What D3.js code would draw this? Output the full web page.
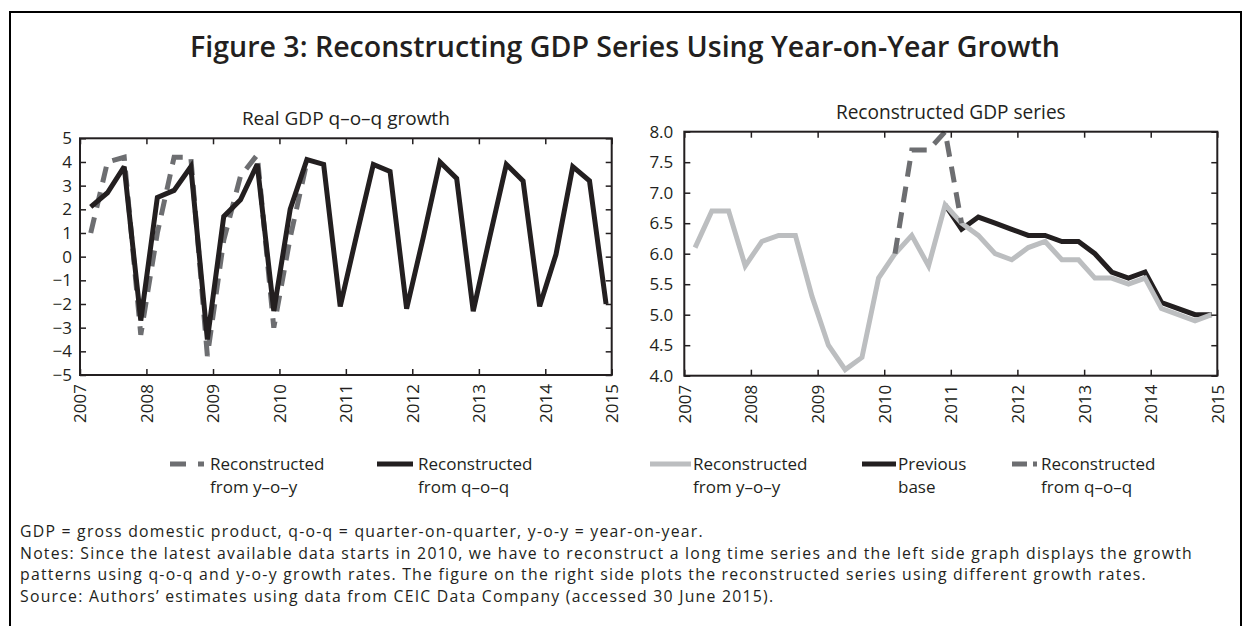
<!DOCTYPE html>
<html><head><meta charset="utf-8">
<script src="https://cdn.jsdelivr.net/npm/d3@7"></script>
<style>
body{margin:0;background:#fff}
svg{display:block}
text{font-family:"Open Sans",sans-serif;fill:#231f20}
</style>
</head><body>
<svg id="chart" width="1249" height="626"></svg>
<script>
// ---------- data ----------
const quarters = ["2007Q1","2007Q2","2007Q3","2007Q4","2008Q1","2008Q2","2008Q3","2008Q4",
  "2009Q1","2009Q2","2009Q3","2009Q4","2010Q1","2010Q2","2010Q3","2010Q4",
  "2011Q1","2011Q2","2011Q3","2011Q4","2012Q1","2012Q2","2012Q3","2012Q4",
  "2013Q1","2013Q2","2013Q3","2013Q4","2014Q1","2014Q2","2014Q3","2014Q4"];
const yearTicks = [2007,2008,2009,2010,2011,2012,2013,2014,2015];
const leftYTicks = [5,4,3,2,1,0,-1,-2,-3,-4,-5];
const rightYTicks = [8.0,7.5,7.0,6.5,6.0,5.5,5.0,4.5,4.0];

// Left panel: Real GDP q-o-q growth (%)
const growthFromYoy = [1.0,4.0,4.2,-3.3, 1.0,4.2,4.2,-4.2, 0.7,3.4,4.3,-3.0, 0.8,4.0,null,null,
  null,null,null,null, null,null,null,null, null,null,null,null, null,null,null,null];
const growthFromQoq = [2.1,2.7,3.8,-2.7, 2.5,2.8,3.8,-3.5, 1.7,2.4,3.9,-2.3, 2.0,4.1,3.9,-2.1,
  0.9,3.9,3.6,-2.2, 0.8,4.0,3.3,-2.3, 0.8,3.9,3.2,-2.1, 0.1,3.8,3.2,-2.0];

// Right panel: Reconstructed GDP series (%)
const seriesFromYoy = [6.1,6.7,6.7,5.8, 6.2,6.3,6.3,5.3, 4.5,4.1,4.3,5.6, 6.0,6.3,5.8,6.8,
  6.5,6.3,6.0,5.9, 6.1,6.2,5.9,5.9, 5.6,5.6,5.5,5.6, 5.1,5.0,4.9,5.0];
const seriesPreviousBase = [null,null,null,null, null,null,null,null, null,null,null,null, null,null,null,6.8,
  6.4,6.6,6.5,6.4, 6.3,6.3,6.2,6.2, 6.0,5.7,5.6,5.7, 5.2,5.1,5.0,5.0];
const seriesFromQoq = [null,null,null,null, null,null,null,null, null,null,null,null, 6.0,7.7,7.7,8.0,
  6.5,null,null,null, null,null,null,null, null,null,null,null, null,null,null,null];

const titleText = "Figure 3: Reconstructing GDP Series Using Year-on-Year Growth";
const leftTitle = "Real GDP q\u2013o\u2013q growth";
const rightTitle = "Reconstructed GDP series";
const noteLines = [
  "GDP = gross domestic product, q-o-q = quarter-on-quarter, y-o-y = year-on-year.",
  "Notes: Since the latest available data starts in 2010, we have to reconstruct a long time series and the left side graph displays the growth",
  "patterns using q-o-q and y-o-y growth rates. The figure on the right side plots the reconstructed series using different growth rates.",
  "Source: Authors\u2019 estimates using data from CEIC Data Company (accessed 30 June 2015)."
];

// ---------- helpers ----------
const INK = "#231f20", DARKGRAY = "#6d6e71", LIGHTGRAY = "#bcbec0";
const qDate = s => new Date(+s.slice(0,4), 3*(+s[5]) - 1, 1);
const yDate = y => new Date(y, 0, 1);
const svg = d3.select("#chart");

function fitText(sel, target){
  const w = sel.node().getComputedTextLength();
  const fs = parseFloat(sel.style("font-size"));
  const nfs = fs * target / w;
  sel.style("font-size", nfs + "px");
  return nfs;
}
function fitSpacing(sel, target){
  const txt = sel.text();
  const w = sel.node().getComputedTextLength();
  const ls = (target - w) / txt.length;
  sel.style("letter-spacing", ls + "px");
  return ls;
}

// frame
svg.append("rect").attr("x",10).attr("y",12).attr("width",1231).attr("height",700)
  .attr("fill","none").attr("stroke","#000").attr("stroke-width",2);

// title
const t = svg.append("text").attr("x",625).attr("y",57).attr("text-anchor","middle")
  .style("font-size","24px").style("font-weight",600).text(titleText);
fitText(t, 870);

function panel(opt){
  const {x0,x1,y0,y1,yDomain,yTicks,yFmt,labelPad,series,title,titleY} = opt;
  const x = d3.scaleTime().domain([yDate(2007), yDate(2015)]).range([x0,x1]);
  const y = d3.scaleLinear().domain(yDomain).range([y1,y0]);
  const g = svg.append("g");

  series.forEach(s => {
    const line = d3.line().defined(d => d.v != null).x(d => x(qDate(d.q))).y(d => y(d.v));
    const data = quarters.map((q,i) => ({q, v: s.values[i]}));
    g.append("path").datum(data).attr("d", line).attr("fill","none")
      .attr("stroke", s.color).attr("stroke-width",5)
      .attr("stroke-linejoin","miter").attr("stroke-miterlimit",3)
      .attr("stroke-dasharray", s.dash || null);
  });

  const tv = yearTicks.map(yDate);
  const styleAxis = a => { a.select(".domain").remove(); a.selectAll("line").attr("stroke",INK).attr("stroke-width",1.5); };
  g.append("g").attr("transform",`translate(0,${y0})`)
    .call(d3.axisTop(x).tickValues(tv).tickSize(-6).tickFormat("")).call(styleAxis);
  g.append("g").attr("transform",`translate(${x1},0)`)
    .call(d3.axisRight(y).tickValues(yTicks).tickSize(-6).tickFormat("")).call(styleAxis);
  const ax = g.append("g").attr("transform",`translate(0,${y1})`)
    .call(d3.axisBottom(x).tickValues(tv).tickSize(-6).tickFormat(d3.timeFormat("%Y"))).call(styleAxis);
  ax.selectAll("text").attr("transform","rotate(-90)").attr("x",-9).attr("y",0).attr("dy","0.35em")
    .attr("text-anchor","end").style("font-size","17px").style("font-family","'Open Sans',sans-serif").attr("fill",INK);
  const ay = g.append("g").attr("transform",`translate(${x0},0)`)
    .call(d3.axisLeft(y).tickValues(yTicks).tickSize(-6).tickPadding(labelPad).tickFormat(yFmt)).call(styleAxis);
  ay.selectAll("text").style("font-size","17px").style("font-family","'Open Sans',sans-serif").attr("fill",INK);

  g.append("rect").attr("x",x0).attr("y",y0).attr("width",x1-x0).attr("height",y1-y0)
    .attr("fill","none").attr("stroke",INK).attr("stroke-width",2);

  const st = g.append("text").attr("x",(x0+x1)/2).attr("y",titleY).attr("text-anchor","middle")
    .style("font-size","17px").text(title);
  fitText(st, opt.titleW);
}

panel({x0:80, x1:611.7, y0:138.3, y1:375, yDomain:[-5,5], yTicks:leftYTicks,
  yFmt:d3.format("d"), labelPad:8, title:leftTitle, titleY:125, titleW:208,
  series:[
    {values:growthFromYoy, color:DARKGRAY, dash:"16,10"},
    {values:growthFromQoq, color:INK}
  ]});

panel({x0:684.3, x1:1217.3, y0:131.7, y1:375.7, yDomain:[4,8], yTicks:rightYTicks,
  yFmt:d3.format(".1f"), labelPad:11, title:rightTitle, titleY:119, titleW:230,
  series:[
    {values:seriesPreviousBase, color:INK},
    {values:seriesFromYoy, color:LIGHTGRAY},
    {values:seriesFromQoq, color:DARKGRAY, dash:"16,10"}
  ]});

// legends
const legendItems = [
  {x1:170, x2:204, color:DARKGRAY, dash:"16,12", tx:210, lines:["Reconstructed","from y\u2013o\u2013y"]},
  {x1:377, x2:413, color:INK, tx:418, lines:["Reconstructed","from q\u2013o\u2013q"]},
  {x1:650, x2:691, color:LIGHTGRAY, tx:693, lines:["Reconstructed","from y\u2013o\u2013y"]},
  {x1:862, x2:896, color:INK, tx:898, lines:["Previous","base"]},
  {x1:1012, x2:1037, color:DARKGRAY, dash:"15,6", tx:1041, lines:["Reconstructed","from q\u2013o\u2013q"]}
];
legendItems.forEach(it => {
  svg.append("line").attr("x1",it.x1).attr("x2",it.x2).attr("y1",464).attr("y2",464)
    .attr("stroke",it.color).attr("stroke-width",5).attr("stroke-dasharray",it.dash||null);
  it.lines.forEach((l,i) => {
    svg.append("text").attr("x",it.tx).attr("y",470+i*23).style("font-size","17px").text(l);
  });
});

// notes
const noteSel = noteLines.map((l,i) => svg.append("text").attr("x",20).attr("y",537+i*21.7)
  .style("font-size","15.8px").text(l));
const ls = fitSpacing(noteSel[1], 1173);
noteSel.forEach(s => s.style("letter-spacing", ls + "px"));
</script>
</body></html>
